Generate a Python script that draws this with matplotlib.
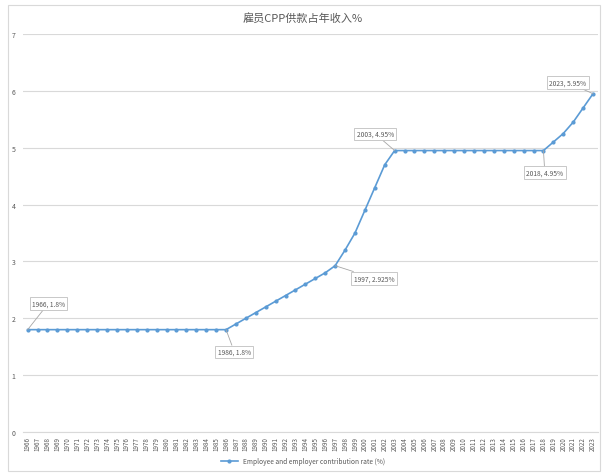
import numpy as np
import matplotlib.pyplot as plt
from matplotlib.patches import Rectangle

plt.rcParams['font.family'] = ['Noto Sans CJK SC', 'DejaVu Sans']

# data
years = list(range(1966, 2024))
rates = ([1.8] * 21 +
         [1.9, 2.0, 2.1, 2.2, 2.3, 2.4, 2.5, 2.6, 2.7, 2.8, 2.925,
          3.2, 3.5, 3.9, 4.3, 4.7] +
         [4.95] * 16 +
         [5.1, 5.25, 5.45, 5.7, 5.95])
labels_at = {1966: (15, 19), 1986: (6, -16), 1997: (28, -9),
             2003: (-14, 12), 2018: (1, -16), 2023: (-18, 8)}
title = '雇员CPP供款占年收入%'
legend_label = 'Employee and employer contribution rate (%)'

blue = '#5B9BD5'
grey = '#595959'
grid = '#D9D9D9'

fig = plt.figure(figsize=(6.06, 4.77), dpi=100)
fig.patches.append(Rectangle((8/606, 1-472/477), 592/606, 466/477,
                             transform=fig.transFigure, fill=False,
                             edgecolor='#D9D9D9', linewidth=0.8))
ax = fig.add_axes([22.7/606, 1-433/477, (598-22.7)/606, (433-35)/477])

x = np.arange(len(years))
ax.plot(x, rates, color=blue, linewidth=1.2, marker='o', markersize=2,
        label=legend_label, zorder=3)

ax.set_xlim(-0.5, len(years) - 0.5)
ax.set_ylim(0, 7)
ax.set_yticks(range(0, 8))
ax.set_xticks(x)
ax.set_xticklabels([str(y) for y in years], rotation=90, fontsize=4.5, color=grey)
ax.tick_params(axis='y', labelsize=5, colors=grey, length=0, pad=5)
ax.tick_params(axis='x', length=0, pad=3)
ax.grid(axis='y', color=grid, linewidth=0.8)
ax.set_axisbelow(True)
for s in ['top', 'right', 'left']:
    ax.spines[s].set_visible(False)
ax.spines['bottom'].set_color(grid)

for yr, (dx, dy) in labels_at.items():
    i = years.index(yr)
    v = rates[i]
    txt = f'{yr}, {v:g}%'
    ax.annotate(txt, xy=(i, v), xytext=(dx, dy), textcoords='offset points',
                ha='center', va='center', fontsize=4.8, color=grey,
                bbox=dict(boxstyle='square,pad=0.35', fc='white', ec='#BFBFBF', lw=0.6),
                arrowprops=dict(arrowstyle='-', color='#A6A6A6', lw=0.6,
                                shrinkA=0, shrinkB=0), zorder=4)

fig.text(0.5, 1-18/477, title, ha='center', va='center', fontsize=8, color=grey)
fig.legend(loc='center', bbox_to_anchor=(0.5, 1-462/477), frameon=False,
           fontsize=4.8, labelcolor=grey, handlelength=2.5)

plt.savefig('out.png', dpi=100)
